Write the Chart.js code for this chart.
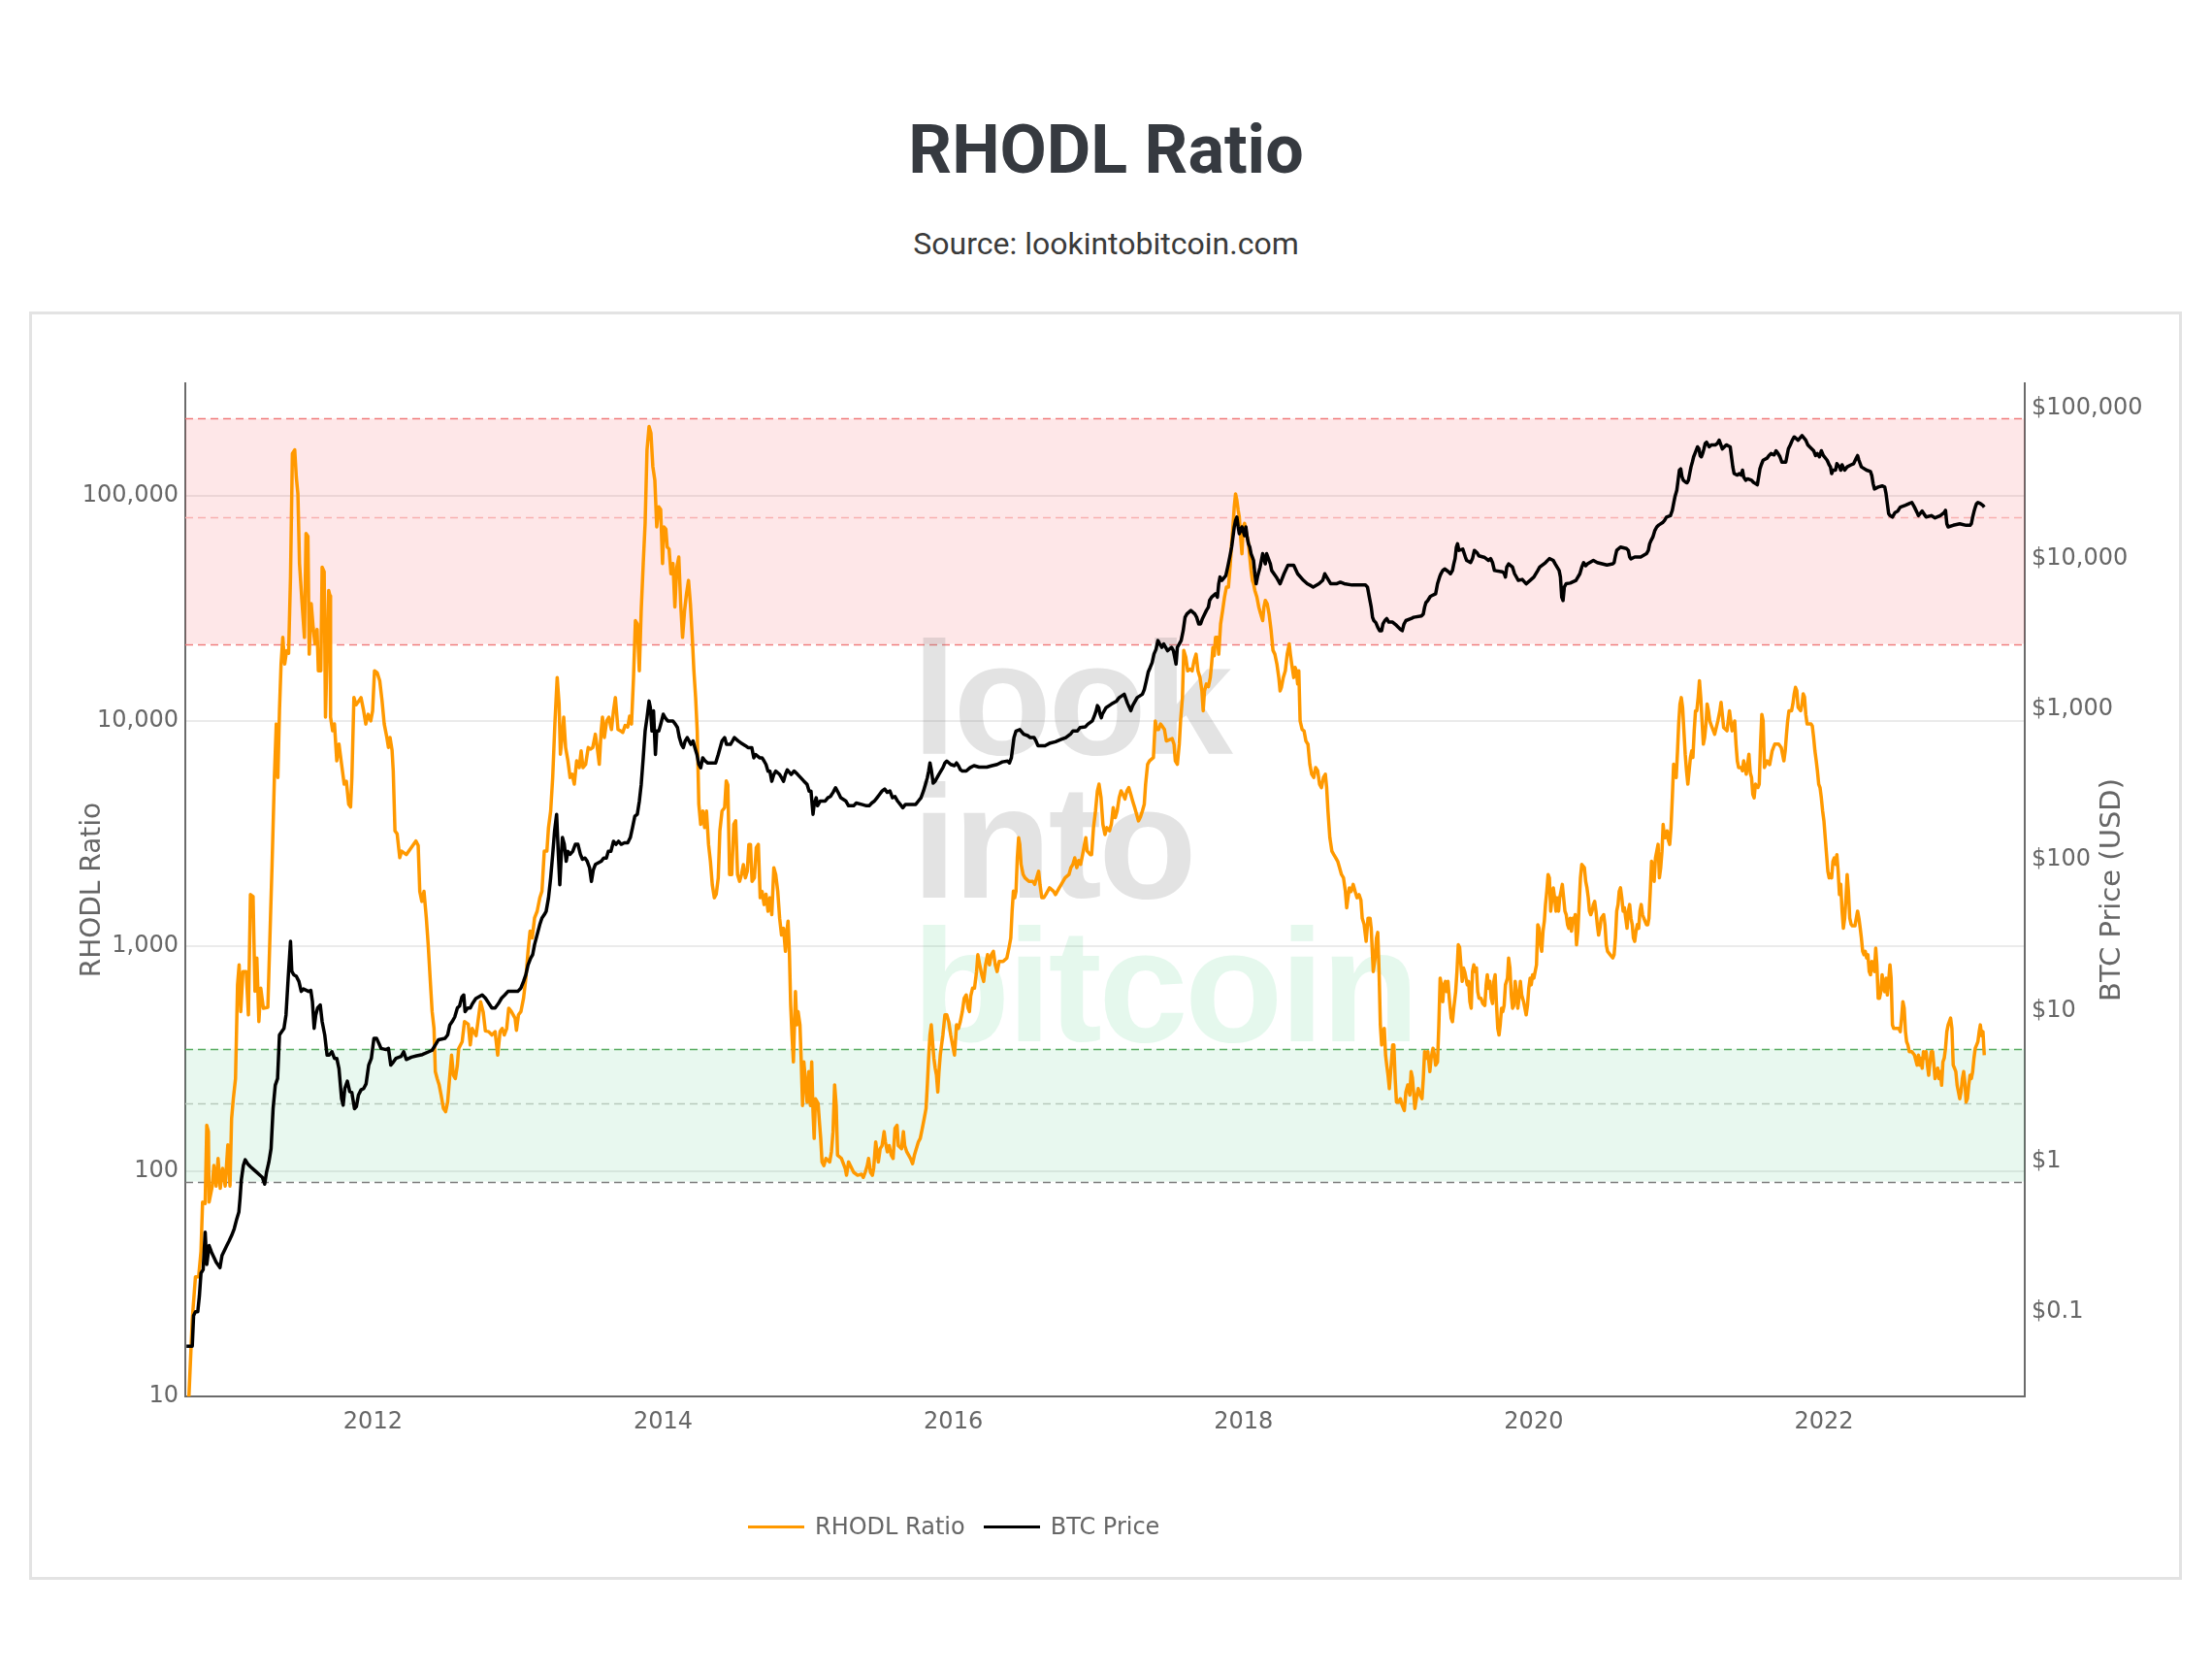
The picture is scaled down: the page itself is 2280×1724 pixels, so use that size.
<!DOCTYPE html>
<html>
<head>
<meta charset="utf-8">
<script src="https://cdn.jsdelivr.net/npm/chart.js@4.4.0/dist/chart.umd.min.js"></script>
<style>
  html, body { margin: 0; padding: 0; background: #fff; }
  #page { position: relative; width: 2280px; height: 1724px; overflow: hidden; }
  #title { position: absolute; left: 0; top: 119px; width: 2280px; text-align: center;
           font: 700 70px/70px Roboto, sans-serif; color: #363a40; }
  #subtitle { position: absolute; left: 0; top: 235px; width: 2280px; text-align: center;
              font: 400 32px/32px Roboto, sans-serif; color: #3a3a3a; }
  #box { position: absolute; left: 30px; top: 321px; width: 2219px; height: 1307px;
         box-sizing: border-box; border: 3px solid #e3e3e3; }
  #chart { position: absolute; left: 0; top: 0; }
  #legend { position: absolute; left: 771px; top: 1559px; display: flex;
            font: 24px/28px "DejaVu Sans", sans-serif; color: #666; }
  #legend .item { display: flex; align-items: center; margin-right: 19px; }
  #legend .item i { display: inline-block; width: 58px; height: 3px; margin-right: 11px; }
</style>
</head>
<body>
<div id="page">
  <div id="title">RHODL Ratio</div>
  <div id="subtitle">Source: lookintobitcoin.com</div>
  <div id="box"></div>
  <canvas id="chart" width="2280" height="1724"></canvas>
  <div id="legend"></div>
</div>
<script>
// RHODL ratio (fractional year -> ratio)
const rhodlYears = [
  2010.732,2010.755,2010.777,2010.799,2010.815,2010.826,2010.844,2010.855,2010.866,2010.871,
  2010.893,2010.904,2010.920,2010.933,2010.948,2010.964,2010.982,2011.000,2011.015,2011.026,
  2011.038,2011.053,2011.067,2011.078,2011.089,2011.104,2011.127,2011.142,2011.156,2011.174,
  2011.187,2011.200,2011.214,2011.227,2011.245,2011.276,2011.294,2011.305,2011.321,2011.334,
  2011.345,2011.356,2011.367,2011.379,2011.392,2011.405,2011.419,2011.432,2011.445,2011.461,
  2011.472,2011.483,2011.494,2011.512,2011.528,2011.539,2011.552,2011.561,2011.575,2011.588,
  2011.601,2011.615,2011.624,2011.641,2011.650,2011.664,2011.673,2011.686,2011.695,2011.704,
  2011.708,2011.722,2011.735,2011.751,2011.766,2011.784,2011.802,2011.817,2011.833,2011.846,
  2011.855,2011.869,2011.884,2011.900,2011.918,2011.936,2011.951,2011.967,2011.985,2011.998,
  2012.011,2012.029,2012.047,2012.063,2012.078,2012.096,2012.107,2012.118,2012.132,2012.140,
  2012.152,2012.167,2012.185,2012.198,2012.230,2012.263,2012.296,2012.312,2012.323,2012.337,
  2012.352,2012.368,2012.381,2012.397,2012.408,2012.421,2012.430,2012.443,2012.457,2012.470,
  2012.486,2012.501,2012.515,2012.530,2012.542,2012.555,2012.568,2012.582,2012.591,2012.615,
  2012.631,2012.657,2012.671,2012.684,2012.711,2012.724,2012.742,2012.760,2012.775,2012.798,
  2012.820,2012.842,2012.860,2012.876,2012.891,2012.905,2012.922,2012.936,2012.954,2012.980,
  2012.989,2013.003,2013.020,2013.038,2013.054,2013.069,2013.083,2013.098,2013.114,2013.132,
  2013.150,2013.165,2013.181,2013.199,2013.210,2013.225,2013.239,2013.254,2013.270,2013.283,
  2013.292,2013.306,2013.315,2013.328,2013.344,2013.359,2013.373,2013.388,2013.404,2013.422,
  2013.435,2013.448,2013.466,2013.484,2013.499,2013.515,2013.533,2013.546,2013.560,2013.573,
  2013.582,2013.595,2013.611,2013.626,2013.644,2013.658,2013.671,2013.689,2013.707,2013.722,
  2013.738,2013.756,2013.769,2013.782,2013.796,2013.809,2013.822,2013.836,2013.849,2013.863,
  2013.876,2013.889,2013.903,2013.916,2013.929,2013.943,2013.956,2013.970,2013.983,2013.996,
  2014.005,2014.019,2014.028,2014.041,2014.054,2014.068,2014.081,2014.094,2014.108,2014.121,
  2014.134,2014.148,2014.161,2014.175,2014.188,2014.201,2014.212,2014.224,2014.235,2014.246,
  2014.259,2014.273,2014.286,2014.299,2014.313,2014.326,2014.339,2014.353,2014.366,2014.380,
  2014.391,2014.406,2014.424,2014.435,2014.446,2014.458,2014.473,2014.487,2014.500,2014.513,
  2014.527,2014.540,2014.553,2014.567,2014.580,2014.591,2014.602,2014.613,2014.629,2014.642,
  2014.656,2014.669,2014.682,2014.696,2014.709,2014.723,2014.736,2014.749,2014.763,2014.776,
  2014.790,2014.803,2014.816,2014.830,2014.843,2014.852,2014.861,2014.870,2014.879,2014.888,
  2014.898,2014.912,2014.921,2014.930,2014.943,2014.952,2014.961,2014.970,2014.981,2014.992,
  2015.004,2015.015,2015.024,2015.033,2015.041,2015.050,2015.068,2015.077,2015.086,2015.095,
  2015.108,2015.122,2015.148,2015.160,2015.171,2015.182,2015.193,2015.202,2015.229,2015.255,
  2015.264,2015.278,2015.300,2015.313,2015.340,2015.367,2015.380,2015.393,2015.407,2015.416,
  2015.429,2015.442,2015.451,2015.465,2015.474,2015.483,2015.496,2015.509,2015.523,2015.532,
  2015.545,2015.558,2015.572,2015.585,2015.598,2015.612,2015.621,2015.643,2015.656,2015.665,
  2015.679,2015.705,2015.719,2015.732,2015.759,2015.772,2015.786,2015.799,2015.812,2015.821,
  2015.830,2015.839,2015.848,2015.857,2015.866,2015.875,2015.884,2015.893,2015.901,2015.910,
  2015.919,2015.928,2015.942,2015.955,2015.968,2015.982,2015.995,2016.008,2016.022,2016.035,
  2016.048,2016.062,2016.075,2016.089,2016.102,2016.111,2016.120,2016.133,2016.146,2016.160,
  2016.169,2016.182,2016.196,2016.209,2016.222,2016.236,2016.249,2016.262,2016.276,2016.289,
  2016.302,2016.316,2016.343,2016.369,2016.383,2016.396,2016.405,2016.414,2016.423,2016.432,
  2016.441,2016.450,2016.458,2016.467,2016.481,2016.494,2016.521,2016.548,2016.561,2016.574,
  2016.588,2016.597,2016.610,2016.623,2016.637,2016.663,2016.690,2016.704,2016.730,2016.744,
  2016.770,2016.797,2016.810,2016.824,2016.837,2016.851,2016.864,2016.877,2016.891,2016.904,
  2016.913,2016.922,2016.944,2016.953,2016.966,2016.980,2016.993,2017.004,2017.018,2017.031,
  2017.045,2017.058,2017.076,2017.089,2017.102,2017.116,2017.129,2017.143,2017.156,2017.169,
  2017.183,2017.196,2017.209,2017.223,2017.236,2017.250,2017.263,2017.276,2017.290,2017.303,
  2017.316,2017.325,2017.339,2017.352,2017.379,2017.392,2017.401,2017.414,2017.428,2017.441,
  2017.455,2017.468,2017.508,2017.521,2017.530,2017.544,2017.557,2017.566,2017.579,2017.588,
  2017.602,2017.615,2017.633,2017.646,2017.659,2017.673,2017.686,2017.700,2017.713,2017.722,
  2017.731,2017.744,2017.758,2017.771,2017.780,2017.789,2017.798,2017.807,2017.820,2017.829,
  2017.842,2017.856,2017.869,2017.882,2017.896,2017.909,2017.918,2017.927,2017.936,2017.945,
  2017.954,2017.963,2017.971,2017.980,2017.989,2017.998,2018.007,2018.016,2018.025,2018.034,
  2018.043,2018.052,2018.061,2018.069,2018.078,2018.092,2018.105,2018.118,2018.132,2018.141,
  2018.150,2018.163,2018.176,2018.190,2018.203,2018.216,2018.230,2018.243,2018.252,2018.261,
  2018.274,2018.288,2018.301,2018.315,2018.323,2018.332,2018.346,2018.355,2018.364,2018.373,
  2018.381,2018.390,2018.404,2018.417,2018.430,2018.444,2018.457,2018.470,2018.484,2018.497,
  2018.511,2018.524,2018.537,2018.551,2018.564,2018.573,2018.582,2018.595,2018.609,2018.622,
  2018.635,2018.649,2018.662,2018.675,2018.689,2018.702,2018.711,2018.720,2018.729,2018.742,
  2018.756,2018.769,2018.782,2018.796,2018.809,2018.818,2018.831,2018.845,2018.858,2018.872,
  2018.880,2018.894,2018.907,2018.916,2018.925,2018.934,2018.943,2018.952,2018.961,2018.970,
  2018.979,2018.987,2018.996,2019.005,2019.014,2019.028,2019.036,2019.045,2019.054,2019.068,
  2019.081,2019.094,2019.108,2019.119,2019.132,2019.146,2019.155,2019.164,2019.172,2019.181,
  2019.195,2019.204,2019.217,2019.230,2019.239,2019.248,2019.262,2019.270,2019.284,2019.293,
  2019.306,2019.315,2019.324,2019.337,2019.346,2019.355,2019.364,2019.373,2019.382,2019.391,
  2019.400,2019.409,2019.418,2019.431,2019.440,2019.449,2019.462,2019.471,2019.480,2019.489,
  2019.498,2019.507,2019.516,2019.524,2019.533,2019.542,2019.551,2019.560,2019.569,2019.578,
  2019.587,2019.596,2019.605,2019.614,2019.623,2019.636,2019.649,2019.663,2019.672,2019.680,
  2019.689,2019.698,2019.707,2019.716,2019.725,2019.734,2019.743,2019.752,2019.761,2019.769,
  2019.778,2019.787,2019.796,2019.805,2019.819,2019.827,2019.836,2019.845,2019.854,2019.863,
  2019.872,2019.881,2019.890,2019.899,2019.908,2019.917,2019.930,2019.939,2019.948,2019.957,
  2019.966,2019.975,2019.983,2019.992,2020.001,2020.010,2020.019,2020.028,2020.037,2020.046,
  2020.055,2020.064,2020.073,2020.081,2020.090,2020.099,2020.108,2020.117,2020.126,2020.135,
  2020.144,2020.153,2020.162,2020.171,2020.179,2020.188,2020.197,2020.206,2020.215,2020.224,
  2020.233,2020.242,2020.251,2020.260,2020.269,2020.278,2020.286,2020.295,2020.304,2020.313,
  2020.322,2020.331,2020.349,2020.358,2020.367,2020.376,2020.384,2020.393,2020.402,2020.411,
  2020.420,2020.429,2020.438,2020.447,2020.456,2020.465,2020.482,2020.491,2020.500,2020.509,
  2020.527,2020.545,2020.554,2020.563,2020.572,2020.581,2020.589,2020.598,2020.607,2020.616,
  2020.625,2020.634,2020.643,2020.652,2020.661,2020.670,2020.679,2020.687,2020.696,2020.705,
  2020.714,2020.723,2020.732,2020.741,2020.750,2020.759,2020.777,2020.786,2020.794,2020.803,
  2020.812,2020.821,2020.830,2020.839,2020.848,2020.857,2020.866,2020.875,2020.884,2020.892,
  2020.901,2020.910,2020.919,2020.928,2020.937,2020.946,2020.955,2020.964,2020.973,2020.982,
  2020.991,2020.999,2021.008,2021.017,2021.026,2021.035,2021.044,2021.053,2021.062,2021.071,
  2021.080,2021.089,2021.097,2021.106,2021.115,2021.124,2021.133,2021.142,2021.151,2021.160,
  2021.169,2021.178,2021.187,2021.195,2021.204,2021.213,2021.229,2021.247,2021.269,2021.283,
  2021.291,2021.309,2021.332,2021.349,2021.367,2021.385,2021.394,2021.403,2021.412,2021.430,
  2021.438,2021.447,2021.465,2021.483,2021.492,2021.501,2021.510,2021.519,2021.528,2021.545,
  2021.554,2021.563,2021.572,2021.581,2021.590,2021.608,2021.626,2021.643,2021.661,2021.688,
  2021.706,2021.724,2021.733,2021.742,2021.750,2021.759,2021.777,2021.786,2021.795,2021.804,
  2021.813,2021.822,2021.840,2021.849,2021.857,2021.866,2021.875,2021.884,2021.911,2021.920,
  2021.929,2021.938,2021.947,2021.955,2021.964,2021.973,2021.982,2021.991,2022.000,2022.009,
  2022.018,2022.027,2022.036,2022.045,2022.053,2022.062,2022.071,2022.080,2022.089,2022.098,
  2022.107,2022.116,2022.125,2022.134,2022.143,2022.152,2022.160,2022.169,2022.178,2022.187,
  2022.196,2022.214,2022.223,2022.232,2022.241,2022.250,2022.258,2022.267,2022.276,2022.285,
  2022.294,2022.303,2022.312,2022.321,2022.330,2022.339,2022.348,2022.357,2022.365,2022.374,
  2022.383,2022.392,2022.401,2022.410,2022.419,2022.428,2022.437,2022.446,2022.455,2022.463,
  2022.472,2022.481,2022.499,2022.517,2022.526,2022.535,2022.544,2022.553,2022.562,2022.570,
  2022.579,2022.588,2022.606,2022.624,2022.642,2022.651,2022.660,2022.668,2022.677,2022.686,
  2022.695,2022.704,2022.713,2022.722,2022.731,2022.740,2022.749,2022.758,2022.766,2022.775,
  2022.784,2022.793,2022.802,2022.811,2022.820,2022.829,2022.838,2022.847,2022.856,2022.864,
  2022.873,2022.882,2022.891,2022.900,2022.909,2022.918,2022.927,2022.936,2022.945,2022.954,
  2022.963,2022.971,2022.980,2022.989,2022.998,2023.007,2023.016,2023.025,2023.034,2023.043,
  2023.052,2023.061,2023.070,2023.078,2023.087,2023.096,2023.105
];
const rhodlValues = [
  10,22,34,34,44,73,72,160,150,73,
  86,106,86,114,84,103,86,131,86,171,
  210,258,673,826,512,771,771,495,1694,1660,
  630,886,462,651,530,535,1334,2306,5610,9690,
  5610,11100,17900,23500,17900,20500,20000,43500,154000,160000,
  121000,102000,50000,33200,23500,68000,66000,19800,33200,26100,
  22000,25500,16700,16700,48200,46000,10400,22000,38000,36000,
  10400,9050,9700,6650,7890,6420,5240,5400,4270,4150,
  5610,12700,11800,12200,12700,11100,9690,10700,10000,11100,
  16700,16400,15100,12300,9690,8450,7620,8450,7400,6010,
  3250,3150,2470,2640,2550,2730,2930,2800,1750,1580,
  1750,1334,1014,673,512,431,277,258,241,218,
  190,184,203,267,328,267,258,296,351,376,
  462,450,364,431,400,462,567,510,420,417,
  403,417,328,417,431,403,431,530,512,478,
  423,495,512,587,721,948,1165,1087,1334,1429,
  1637,1754,2642,2642,3357,3981,5610,9690,15600,11900,
  7120,8730,10400,7620,6650,5610,5800,5240,6650,6210,
  7360,6210,6420,7620,7500,7620,8730,7620,6420,9040,
  10400,8450,10000,10400,9160,11100,12700,9160,9040,8900,
  9550,9400,10500,9690,15600,27900,27000,16700,31000,50000,
  75400,160000,203000,190000,135000,117000,72800,89300,87000,50000,
  72800,71000,59300,58000,45100,50000,32100,48000,53500,33200,
  23500,31000,36700,42100,33200,23500,16700,12700,9040,4270,
  3470,3980,3360,3980,2830,2380,1870,1640,1700,2010,
  3250,3980,4120,5420,5200,2080,2080,3470,3600,2080,
  1940,2080,2300,2010,2150,2830,2830,1940,2010,2740,
  2830,1640,1750,1530,1700,1430,1640,1380,2230,2080,
  1750,1330,1120,1200,948,1150,1290,948,548,403,
  306,628,447,512,447,306,196,306,250,203,
  277,196,306,184,140,210,200,166,140,110,
  106,114,110,122,150,242,196,118,114,103,
  96,110,103,99,96,97,94,99,106,114,
  99,96,103,135,122,110,126,130,150,135,
  122,130,118,114,155,160,130,126,150,130,
  122,114,108,118,135,140,155,171,190,242,
  318,403,447,376,318,287,267,225,277,328,
  364,403,495,495,462,403,364,328,447,431,
  462,512,587,607,530,512,600,651,651,771,
  916,826,746,697,826,916,826,916,948,826,
  771,855,855,886,980,1087,1429,1754,1640,1754,
  2466,3030,2830,2306,2080,2010,1940,1940,1880,2010,
  2150,1880,1640,1640,1694,1815,1754,1694,1815,1880,
  2010,2080,2230,2306,2466,2230,2400,2306,2550,2830,
  3030,2650,2550,2550,3360,3980,4890,5240,4560,3470,
  3130,3360,3250,3470,4120,3720,3980,4560,4890,4720,
  4500,4890,5060,4720,4410,4120,3850,3600,3750,3980,
  4270,5240,6420,6650,6880,10000,9160,9160,9690,9450,
  9160,8150,8350,7880,6650,6420,7880,10000,12700,20600,
  19200,16700,17000,16700,18500,19800,16700,15600,13600,11100,
  13600,14600,14200,15600,17900,21200,19500,23500,23500,19800,
  27000,31000,35500,39300,39300,50000,61400,72800,89300,102000,
  95700,86300,80500,65700,55300,72800,75400,70400,65700,61400,
  53500,46600,42100,40700,38000,35500,32100,29900,27900,32100,
  34300,33200,29900,25200,20600,19800,17900,15600,13600,14100,
  15600,16700,19800,22000,19800,17900,15600,17300,16700,14600,
  16700,10000,9160,9040,8150,7880,6420,5800,5610,6210,
  6010,5240,5060,5610,5800,5060,3980,3030,2640,2550,
  2470,2380,2230,2080,2010,1750,1480,1640,1815,1750,
  1880,1750,1640,1694,1600,1330,1250,1050,1330,1330,
  1200,771,885,1087,1150,771,447,364,417,431,
  328,296,267,233,277,364,364,258,203,203,
  210,196,186,225,242,218,277,260,225,190,
  218,233,218,210,258,340,318,340,277,318,
  352,330,296,306,447,721,673,567,673,697,
  628,697,587,479,462,530,628,771,1014,990,
  826,697,800,771,721,673,697,567,530,771,
  826,771,800,628,587,587,556,545,673,746,
  650,697,587,556,697,746,556,431,403,447,
  530,512,545,673,721,886,800,607,530,545,
  697,628,530,587,697,607,567,530,495,545,
  651,721,673,746,721,771,826,1245,1200,1014,
  948,1165,1290,1530,1750,2080,2010,1430,1640,1815,
  1640,1430,1640,1430,1640,1750,1880,1640,1430,1380,
  1245,1200,1330,1165,1330,1290,1380,1014,1165,1530,
  2010,2306,2230,1940,1815,1640,1430,1380,1430,1530,
  1580,1430,1245,1120,1200,1330,1380,1245,1014,948,
  916,886,916,1087,1430,1530,1750,1815,1640,1430,
  1480,1330,1200,1430,1530,1330,1245,1087,1050,1165,
  1245,1200,1430,1530,1380,1330,1245,1245,1330,1750,
  2380,2306,1940,2466,2640,2830,2010,2230,2640,3470,
  3030,3030,3250,2950,2830,3360,4560,6420,6200,5610,
  7360,9690,11900,12700,11500,9040,7120,6010,5240,6010,
  6880,7360,6880,9040,11100,11100,12700,15100,12700,10000,
  7890,8450,9690,11900,11100,10000,9350,8730,10000,11100,
  12100,9350,9040,11100,9040,10000,7890,6650,6210,6210,
  6010,6650,5800,7120,5900,5610,4720,4560,5240,5060,
  5240,7890,10700,10000,6210,6650,6400,7360,7890,7890,
  7600,6650,7360,8730,10000,11100,11100,11900,13200,14100,
  13600,11500,11100,11900,13200,12800,10700,9700,9700,9500,
  8450,7360,6650,6010,5240,5060,4560,3980,3600,3030,
  2550,2150,2010,2080,2010,2380,2466,2306,2550,2150,
  1694,1880,1430,1200,1330,1640,2080,1750,1330,1250,
  1230,1230,1330,1430,1330,1200,1087,948,916,948,
  886,916,771,746,855,826,771,980,826,587,
  587,628,746,651,628,721,607,697,826,721,
  447,431,431,431,417,479,567,530,417,376,
  364,340,340,328,296,328,296,318,287,340,
  318,340,296,267,306,340,340,296,258,277,
  287,258,277,241,306,318,352,417,447,462,
  479,431,296,287,277,241,225,210,225,258,
  277,250,203,210,241,267,258,277,318,352,
  364,376,417,447,400,417,328
];

// BTC price in USD (fractional year -> price)
const priceYears = [
  2010.715,2010.755,2010.764,2010.777,2010.793,2010.804,2010.815,2010.830,2010.844,2010.855,
  2010.871,2010.888,2010.920,2010.946,2010.960,2010.993,2011.009,2011.026,2011.044,2011.062,
  2011.076,2011.084,2011.093,2011.107,2011.120,2011.138,2011.156,2011.187,2011.223,2011.238,
  2011.254,2011.267,2011.283,2011.298,2011.312,2011.327,2011.343,2011.356,2011.372,2011.387,
  2011.401,2011.416,2011.432,2011.441,2011.454,2011.472,2011.490,2011.506,2011.521,2011.557,
  2011.572,2011.583,2011.595,2011.606,2011.619,2011.637,2011.650,2011.668,2011.684,2011.699,
  2011.717,2011.735,2011.751,2011.766,2011.784,2011.795,2011.806,2011.824,2011.840,2011.855,
  2011.873,2011.886,2011.900,2011.918,2011.936,2011.953,2011.971,2011.989,2012.007,2012.025,
  2012.042,2012.056,2012.091,2012.107,2012.123,2012.140,2012.158,2012.194,2012.212,2012.230,
  2012.265,2012.301,2012.341,2012.386,2012.408,2012.430,2012.452,2012.497,2012.515,2012.530,
  2012.546,2012.564,2012.582,2012.597,2012.613,2012.626,2012.635,2012.653,2012.671,2012.686,
  2012.709,2012.753,2012.775,2012.820,2012.842,2012.864,2012.887,2012.909,2012.931,2012.998,
  2013.020,2013.038,2013.054,2013.069,2013.087,2013.101,2013.114,2013.132,2013.150,2013.165,
  2013.181,2013.194,2013.210,2013.225,2013.239,2013.252,2013.266,2013.277,2013.288,2013.297,
  2013.306,2013.319,2013.332,2013.344,2013.359,2013.377,2013.395,2013.413,2013.430,2013.444,
  2013.462,2013.477,2013.493,2013.506,2013.519,2013.533,2013.573,2013.591,2013.609,2013.622,
  2013.640,2013.658,2013.675,2013.693,2013.711,2013.733,2013.756,2013.774,2013.789,2013.805,
  2013.822,2013.836,2013.849,2013.863,2013.876,2013.889,2013.903,2013.912,2013.923,2013.934,
  2013.947,2013.956,2013.970,2013.983,2014.001,2014.014,2014.032,2014.068,2014.085,2014.099,
  2014.112,2014.126,2014.139,2014.152,2014.166,2014.179,2014.192,2014.206,2014.219,2014.233,
  2014.246,2014.259,2014.273,2014.290,2014.308,2014.362,2014.380,2014.393,2014.406,2014.424,
  2014.437,2014.464,2014.478,2014.491,2014.518,2014.535,2014.567,2014.585,2014.611,2014.625,
  2014.638,2014.665,2014.682,2014.696,2014.709,2014.723,2014.736,2014.749,2014.763,2014.776,
  2014.803,2014.816,2014.830,2014.843,2014.856,2014.883,2014.903,2014.926,2014.948,2014.970,
  2014.992,2015.006,2015.019,2015.033,2015.041,2015.055,2015.064,2015.082,2015.117,2015.135,
  2015.153,2015.171,2015.188,2015.206,2015.224,2015.260,2015.278,2015.313,2015.331,2015.367,
  2015.402,2015.420,2015.438,2015.456,2015.474,2015.491,2015.509,2015.527,2015.545,2015.563,
  2015.581,2015.598,2015.616,2015.634,2015.652,2015.670,2015.705,2015.741,2015.759,2015.777,
  2015.794,2015.808,2015.821,2015.830,2015.839,2015.848,2015.861,2015.875,2015.901,2015.928,
  2015.942,2015.955,2015.982,2016.008,2016.022,2016.035,2016.048,2016.062,2016.089,2016.115,
  2016.142,2016.178,2016.231,2016.267,2016.302,2016.338,2016.374,2016.387,2016.400,2016.409,
  2016.418,2016.432,2016.458,2016.485,2016.512,2016.530,2016.557,2016.570,2016.583,2016.632,
  2016.668,2016.704,2016.739,2016.775,2016.810,2016.824,2016.855,2016.873,2016.909,2016.926,
  2016.958,2016.971,2016.984,2016.993,2017.002,2017.011,2017.020,2017.027,2017.053,2017.089,
  2017.125,2017.143,2017.178,2017.200,2017.214,2017.223,2017.236,2017.267,2017.303,2017.316,
  2017.330,2017.343,2017.357,2017.370,2017.383,2017.397,2017.410,2017.423,2017.437,2017.450,
  2017.477,2017.504,2017.517,2017.526,2017.535,2017.544,2017.557,2017.570,2017.584,2017.597,
  2017.610,2017.637,2017.664,2017.677,2017.691,2017.704,2017.717,2017.744,2017.758,2017.766,
  2017.780,2017.807,2017.820,2017.829,2017.838,2017.851,2017.878,2017.891,2017.905,2017.918,
  2017.927,2017.936,2017.945,2017.954,2017.963,2017.971,2017.989,2018.007,2018.016,2018.025,
  2018.034,2018.043,2018.052,2018.061,2018.069,2018.078,2018.087,2018.096,2018.114,2018.123,
  2018.132,2018.150,2018.159,2018.185,2018.194,2018.226,2018.252,2018.279,2018.306,2018.346,
  2018.373,2018.413,2018.439,2018.466,2018.480,2018.520,2018.546,2018.560,2018.573,2018.600,
  2018.640,2018.667,2018.693,2018.747,2018.800,2018.840,2018.854,2018.867,2018.880,2018.889,
  2018.898,2018.912,2018.925,2018.938,2018.952,2018.961,2018.974,2018.987,2019.001,2019.027,
  2019.054,2019.081,2019.094,2019.106,2019.119,2019.155,2019.172,2019.226,2019.239,2019.248,
  2019.257,2019.270,2019.288,2019.324,2019.337,2019.351,2019.360,2019.373,2019.386,2019.413,
  2019.426,2019.440,2019.449,2019.458,2019.467,2019.475,2019.484,2019.511,2019.529,2019.538,
  2019.565,2019.578,2019.591,2019.609,2019.622,2019.663,2019.689,2019.703,2019.716,2019.729,
  2019.783,2019.796,2019.805,2019.814,2019.827,2019.854,2019.868,2019.894,2019.921,2019.948,
  2019.975,2020.001,2020.028,2020.041,2020.081,2020.108,2020.135,2020.148,2020.175,2020.184,
  2020.193,2020.202,2020.211,2020.224,2020.251,2020.291,2020.318,2020.331,2020.344,2020.358,
  2020.371,2020.411,2020.438,2020.505,2020.545,2020.554,2020.563,2020.572,2020.598,2020.639,
  2020.652,2020.661,2020.670,2020.696,2020.737,2020.777,2020.790,2020.799,2020.808,2020.821,
  2020.835,2020.848,2020.861,2020.888,2020.901,2020.915,2020.942,2020.955,2020.964,2020.973,
  2020.986,2020.995,2021.004,2021.013,2021.022,2021.031,2021.048,2021.057,2021.066,2021.075,
  2021.084,2021.093,2021.102,2021.111,2021.120,2021.129,2021.138,2021.147,2021.155,2021.164,
  2021.173,2021.182,2021.191,2021.209,2021.225,2021.251,2021.265,2021.278,2021.300,2021.327,
  2021.354,2021.363,2021.372,2021.381,2021.403,2021.416,2021.430,2021.439,2021.447,2021.461,
  2021.474,2021.501,2021.514,2021.528,2021.541,2021.550,2021.559,2021.568,2021.581,2021.608,
  2021.621,2021.635,2021.657,2021.670,2021.684,2021.697,2021.710,2021.737,2021.746,2021.755,
  2021.768,2021.782,2021.795,2021.822,2021.849,2021.875,2021.889,2021.902,2021.929,2021.942,
  2021.955,2021.969,2021.982,2021.996,2022.022,2022.036,2022.045,2022.053,2022.062,2022.080,
  2022.089,2022.107,2022.116,2022.125,2022.143,2022.160,2022.187,2022.205,2022.223,2022.232,
  2022.241,2022.258,2022.294,2022.321,2022.330,2022.339,2022.348,2022.374,2022.401,2022.419,
  2022.428,2022.437,2022.446,2022.455,2022.472,2022.490,2022.508,2022.526,2022.562,2022.588,
  2022.606,2022.624,2022.642,2022.651,2022.677,2022.704,2022.740,2022.766,2022.802,2022.829,
  2022.838,2022.847,2022.856,2022.891,2022.936,2022.980,2023.007,2023.016,2023.025,2023.034,
  2023.043,2023.052,2023.061,2023.078,2023.096,2023.105
];
const priceValues = [
  0.059,0.059,0.094,0.1,0.1,0.127,0.18,0.19,0.337,0.206,
  0.275,0.248,0.213,0.196,0.236,0.275,0.295,0.32,0.355,0.414,
  0.458,0.562,0.748,0.936,1.02,0.957,0.918,0.863,0.803,0.78,
  0.703,0.845,0.986,1.21,2.23,3.19,3.54,6.88,7.24,7.6,
  9.34,16.4,28.8,18.2,17.3,16.9,15.6,13.4,13.9,13.4,
  13.6,11.5,7.62,9.34,10.4,10.9,8.44,6.88,5.06,5.06,
  5.33,4.81,4.81,4.12,2.6,2.35,3.03,3.4,2.9,2.85,
  2.23,2.3,2.74,2.97,3.03,3.26,4.34,4.81,6.53,6.53,
  6.02,5.6,5.5,5.6,4.34,4.54,4.81,4.95,5.33,4.73,
  4.9,5.0,5.1,5.33,5.45,5.9,6.4,6.53,6.88,8.02,
  8.44,9.06,10.4,10.7,12.3,12.7,9.84,10.4,10.4,11.1,
  12.0,12.7,12.1,10.4,10.4,11.1,12.1,12.7,13.4,13.4,
  14.1,15.6,17.3,20.1,22.3,23.5,27.4,31.9,37.2,41.2,
  43.3,45.6,55.9,76,109,156,201,114,68.5,103,
  141,127,98,114,109,114,127,127,109,101,
  103,98,88.7,72.1,86.1,93.4,98,103,103,114,
  114,133,127,133,127,130,130,141,164,195,
  201,245,317,477,718,881,1137,1028,718,977,
  502,718,718,796,929,881,838,838,796,757,
  650,586,557,617,650,617,586,617,557,502,
  431,410,477,454,440,440,502,557,617,650,
  586,586,617,650,617,600,574,557,557,477,
  502,477,477,454,431,389,389,333,370,389,
  370,352,333,370,397,370,390,371,352,334,
  318,287,287,201,234,259,229,246,246,259,
  264,281,302,281,259,246,229,229,239,234,
  229,229,239,246,259,272,287,296,281,287,
  259,264,246,234,222,234,234,234,246,259,
  287,318,352,390,441,398,324,334,371,410,
  441,454,431,423,441,423,398,390,390,410,
  423,414,414,423,431,448,454,441,477,557,
  650,719,735,684,670,650,650,617,574,574,
  598,610,630,650,690,719,719,757,765,796,
  838,899,977,1060,1028,929,881,929,1028,1084,
  1137,1198,1262,1100,1028,980,1059,1198,1262,1355,
  1549,1770,1902,2043,2335,2508,2866,2723,2585,2723,
  2454,2585,2454,2218,2000,2585,2723,2866,3334,4090,
  4306,4537,4306,4090,3697,3697,4010,4537,4779,5290,
  5565,5860,5565,6840,7574,7195,7730,8810,10280,11980,
  13960,16290,17990,18950,16290,14690,16290,14260,16290,13960,
  12600,11980,10820,10280,9758,7960,6830,7570,8810,9758,
  10820,9260,10820,9260,8370,7570,6830,7960,9060,9060,
  7960,7195,6830,6620,6500,6830,7195,7960,7570,6840,
  6830,7000,6840,6700,6700,6700,6500,5565,4779,4090,
  3890,3770,3510,3334,3334,3697,3890,4010,3800,3800,
  3615,3400,3334,3690,3890,4010,4090,4180,4306,4779,
  5120,5290,5640,5860,6840,7570,7960,8370,8570,8200,
  7960,8370,9260,10040,11980,12600,11380,11600,10280,9758,
  9440,10040,11380,11000,10470,10200,9758,10040,9440,8370,
  8200,8040,7570,8810,9260,8810,7960,7195,7300,6830,
  7195,7570,8370,8810,9440,10040,9758,9260,8370,7570,
  5565,5290,6500,6840,6900,7195,7960,8810,9440,9000,
  9260,9758,9440,9100,9260,9440,10470,11380,11980,11700,
  11380,10280,10000,10280,10280,10820,11380,12600,13220,13960,
  15450,16290,16750,17400,17990,18950,19370,21000,23280,25780,
  28530,33270,38800,39600,35000,33270,32230,32000,33270,36830,
  40800,43870,47600,50030,52630,55420,54000,48530,47600,50030,
  53830,58360,59560,55420,57150,57150,58360,61400,53730,57150,
  55420,47600,40800,36830,36000,36830,36000,38800,35000,33270,
  34000,33270,32230,31600,31000,35000,39600,42100,45200,46660,
  48530,50030,49000,52240,50030,47600,43870,43870,48530,53830,
  57150,61400,64560,61400,65900,61400,57150,55420,52240,48530,
  50030,47600,52240,48530,45200,42100,40800,36830,38800,38800,
  42850,40800,38800,42100,38800,40800,42100,42850,46660,48530,
  45200,40800,38800,38000,35700,31600,29100,30000,30500,30000,
  27100,23280,19950,19370,18950,20300,20750,22040,22700,23280,
  23700,22040,20300,19370,20750,18950,19370,18700,19370,20300,
  21000,17100,16290,16700,17100,16700,16700,17100,18950,20560,
  22040,23280,23700,23280,22600,22040
];

// Axes: ranges and tick values
const yearRange = [2010.707, 2023.384];
const yearTicks = [2012, 2014, 2016, 2018, 2020, 2022];
const ratioRange = [10, 316000];
const ratioTicks = [10, 100, 1000, 10000, 100000];
const priceRange = [0.02735, 146500];
const priceTicks = [0.1, 1, 10, 100, 1000, 10000, 100000];

// Zones on the ratio axis: [low, middle, high]
const topZone = [22000, 80000, 220000];
const bottomZone = [90, 200, 350];

const watermark = ['look', 'into', 'bitcoin'];

Chart.defaults.font.family = '"DejaVu Sans", Verdana, sans-serif';
Chart.defaults.color = '#666';

// Shaded zones, dashed lines and the watermark behind the series
const zonesPlugin = {
    id: 'zones',
    beforeDatasetsDraw(chart) {
        const { ctx, chartArea: a, scales: { y } } = chart;
        ctx.save();
        ctx.beginPath();
        ctx.rect(a.left, a.top, a.width, a.height);
        ctx.clip();

        const zone = (vals, fill, lineColors) => {
            const top = y.getPixelForValue(vals[2]);
            const bottom = y.getPixelForValue(vals[0]);
            ctx.fillStyle = fill;
            ctx.fillRect(a.left, top, a.width, bottom - top);
            ctx.lineWidth = 1.5;
            ctx.setLineDash([8, 5]);
            vals.forEach((v, i) => {
                const py = Math.round(y.getPixelForValue(v)) + 0.5;
                ctx.strokeStyle = lineColors[i];
                ctx.beginPath();
                ctx.moveTo(a.left, py);
                ctx.lineTo(a.right, py);
                ctx.stroke();
            });
        };
        zone(topZone, 'rgba(245,20,30,0.1)', ['#f07b7b', '#f8b0b0', '#f07b7b']);
        zone(bottomZone, 'rgba(30,190,100,0.1)', ['#7d7d7d', '#b7c9bc', '#5aad62']);

        // watermark text
        ctx.setLineDash([]);
        ctx.font = 'bold 166px "Liberation Sans", Arial, sans-serif';
        ctx.letterSpacing = '-3.5px';
        ctx.textAlign = 'left';
        ctx.textBaseline = 'alphabetic';
        const colors = ['rgba(128,128,128,0.22)', 'rgba(128,128,128,0.22)', 'rgba(45,200,110,0.12)'];
        watermark.forEach((word, i) => {
            ctx.fillStyle = colors[i];
            ctx.fillText(word, a.left + 749, a.top + 382 + i * 148);
        });
        ctx.restore();
    },
    afterDraw(chart) {
        // right axis title reads bottom-to-top like the left one
        const { ctx, chartArea: a, scales: { y1 } } = chart;
        const t = y1.options.title;
        ctx.save();
        ctx.translate(a.right + 90, (a.top + a.bottom) / 2);
        ctx.rotate(-Math.PI / 2);
        ctx.textAlign = 'center';
        ctx.textBaseline = 'middle';
        ctx.fillStyle = '#666';
        ctx.font = '29px "DejaVu Sans", Verdana, sans-serif';
        ctx.fillText(t.text, 0, 0);
        ctx.restore();
    }
};

const ctx = document.getElementById('chart').getContext('2d');
const chart = new Chart(ctx, {
    type: 'line',
    data: {
        datasets: [
            {
                label: 'RHODL Ratio',
                data: rhodlYears.map((x, i) => ({ x, y: rhodlValues[i] })),
                yAxisID: 'y',
                borderColor: '#ff9900',
                backgroundColor: '#ff9900',
                borderWidth: 3.5,
                order: 1
            },
            {
                label: 'BTC Price',
                data: priceYears.map((x, i) => ({ x, y: priceValues[i] })),
                yAxisID: 'y1',
                borderColor: '#000000',
                backgroundColor: '#000000',
                borderWidth: 3.5,
                order: 0
            }
        ]
    },
    options: {
        responsive: false,
        animation: false,
        devicePixelRatio: 1,
        events: [],
        elements: {
            point: { radius: 0 },
            line: { tension: 0, borderJoinStyle: 'round' }
        },
        layout: { padding: { left: 76, right: 33, top: 395, bottom: 225 } },
        plugins: {
            legend: { display: false },
            tooltip: { enabled: false }
        },
        scales: {
            x: {
                type: 'linear',
                min: yearRange[0],
                max: yearRange[1],
                afterFit: s => { s.height = 60; },
                afterBuildTicks: s => { s.ticks = yearTicks.map(v => ({ value: v })); },
                grid: { display: false },
                border: { display: true, color: '#6b6b6b', width: 2 },
                ticks: { padding: 4, font: { size: 24 }, color: '#666', callback: v => String(v) }
            },
            y: {
                type: 'logarithmic',
                position: 'left',
                min: ratioRange[0],
                max: ratioRange[1],
                afterFit: s => { s.width = 115; },
                afterBuildTicks: s => { s.ticks = ratioTicks.map(v => ({ value: v })); },
                grid: { color: '#ebebeb', lineWidth: 2, drawTicks: false },
                border: { display: true, color: '#6b6b6b', width: 2 },
                ticks: { padding: 7, font: { size: 24 }, color: '#666',
                         callback: v => v.toLocaleString('en-US') },
                title: { display: true, text: 'RHODL Ratio', color: '#666',
                         font: { size: 28 }, padding: { top: 3, bottom: 4 } }
            },
            y1: {
                type: 'logarithmic',
                position: 'right',
                min: priceRange[0],
                max: priceRange[1],
                afterFit: s => { s.width = 160; },
                afterBuildTicks: s => { s.ticks = priceTicks.map(v => ({ value: v })); },
                grid: { display: false, drawTicks: false },
                border: { display: true, color: '#6b6b6b', width: 2 },
                ticks: { padding: 7, font: { size: 24 }, color: '#666',
                         callback: v => '$' + v.toLocaleString('en-US') },
                title: { display: false, text: 'BTC Price (USD)' }
            }
        }
    },
    plugins: [zonesPlugin]
});

// Legend in dataset order, built from the chart's own datasets
const legend = document.getElementById('legend');
chart.data.datasets.forEach(ds => {
    const item = document.createElement('span');
    item.className = 'item';
    const swatch = document.createElement('i');
    swatch.style.background = ds.borderColor;
    item.appendChild(swatch);
    item.appendChild(document.createTextNode(ds.label));
    legend.appendChild(item);
});
</script>
</body>
</html>
